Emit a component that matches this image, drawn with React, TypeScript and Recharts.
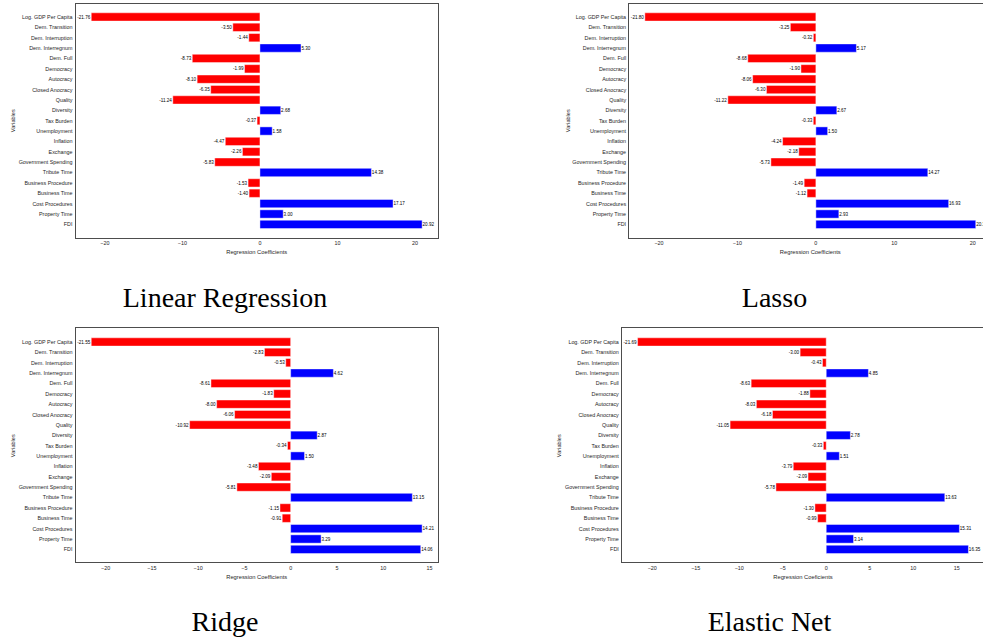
import React from "react";
import { BarChart, Bar, XAxis, YAxis, Cell, LabelList } from "recharts";

const categories = [
  "Log. GDP Per Capita",
  "Dem. Transition",
  "Dem. Interruption",
  "Dem. Interregnum",
  "Dem. Full",
  "Democracy",
  "Autocracy",
  "Closed Anocracy",
  "Quality",
  "Diversity",
  "Tax Burden",
  "Unemployment",
  "Inflation",
  "Exchange",
  "Government Spending",
  "Tribute Time",
  "Business Procedure",
  "Business Time",
  "Cost Procedures",
  "Property Time",
  "FDI",
];

const linearValues = [
  -21.76, -3.5, -1.44, 5.3, -8.73, -1.99, -8.1, -6.35, -11.24, 2.68, -0.37, 1.58,
  -4.47, -2.26, -5.83, 14.38, -1.53, -1.4, 17.17, 3.0, 20.92,
];
const lassoValues = [
  -21.8, -3.25, -0.32, 5.17, -8.68, -1.9, -8.06, -6.3, -11.22, 2.67, -0.33, 1.5,
  -4.24, -2.18, -5.73, 14.27, -1.49, -1.12, 16.93, 2.93, 20.38,
];
const ridgeValues = [
  -21.55, -2.83, -0.53, 4.62, -8.61, -1.83, -8.0, -6.06, -10.92, 2.87, -0.34, 1.5,
  -3.48, -2.09, -5.81, 13.15, -1.15, -0.91, 14.21, 3.29, 14.06,
];
const elasticValues = [
  -21.69, -3.0, -0.43, 4.85, -8.63, -1.88, -8.03, -6.18, -11.05, 2.78, -0.33, 1.51,
  -3.79, -2.09, -5.78, 13.63, -1.3, -0.99, 15.31, 3.14, 16.35,
];

const wideTicks = [-20, -10, 0, 10, 20];
const narrowTicks = [-20, -15, -10, -5, 0, 5, 10, 15];

const SANS = "'Liberation Sans', Arial, sans-serif";
const TEXT = "#262626";
const PLOT_W = 364;
const PLOT_H = 236;
const PLOT_TOP = 2.7;
const X_AXIS_H = 22;

type Panel = {
  title: string;
  xlabel: string;
  values: number[];
  ticks: number[];
  left: number;
  top: number;
  yAxisWidth: number;
  titleX: number;
  titleY: number;
};

const panels: Panel[] = [
  { title: "Linear Regression", xlabel: "Regression Coefficients", values: linearValues, ticks: wideTicks, left: 0, top: 0, yAxisWidth: 74.7, titleX: 225, titleY: 298 },
  { title: "Lasso", xlabel: "Regression Coefficients", values: lassoValues, ticks: wideTicks, left: 555, top: 0, yAxisWidth: 73.3, titleX: 774.5, titleY: 298 },
  { title: "Ridge", xlabel: "Regression Coefficients", values: ridgeValues, ticks: narrowTicks, left: 0, top: 324.8, yAxisWidth: 74.7, titleX: 225, titleY: 622 },
  { title: "Elastic Net", xlabel: "Regression Coeficients", values: elasticValues, ticks: narrowTicks, left: 545.5, top: 324.8, yAxisWidth: 75, titleX: 769.5, titleY: 622 },
];

function fmtTick(v: number) {
  return v < 0 ? "\u2212" + Math.abs(v) : String(v);
}

// plain svg text so long names stay on one line
function CategoryTick(props: any) {
  const { x, y, payload } = props;
  return (
    <text x={x} y={y} dy="0.36em" textAnchor="end" fontSize={5.4} fontFamily={SANS} fill={TEXT}>
      {payload.value}
    </text>
  );
}

function ValueLabel(props: any) {
  const { x, y, width, height, value } = props;
  const x0 = Number(x);
  const w = Number(width);
  const lo = Math.min(x0, x0 + w);
  const hi = Math.max(x0, x0 + w);
  const cy = Number(y) + Number(height) / 2;
  const neg = Number(value) < 0;
  return (
    <text
      x={neg ? lo - 1 : hi + 0.4}
      y={cy}
      dy="0.36em"
      textAnchor={neg ? "end" : "start"}
      fontSize={4.6}
      fontFamily={SANS}
      fill="#000"
    >
      {Number(value).toFixed(2)}
    </text>
  );
}

function CoefChart({ p }: { p: Panel }) {
  const data = categories.map((name, i) => ({ name, value: p.values[i] }));
  const lo = Math.min(...p.values);
  const hi = Math.max(...p.values);
  const pad = (hi - lo) * 0.05;
  const width = p.yAxisWidth + PLOT_W + 8;
  const height = PLOT_TOP + PLOT_H + X_AXIS_H;

  return (
    <div style={{ position: "absolute", left: p.left, top: p.top, width, height }}>
      <BarChart
        layout="vertical"
        width={width}
        height={height}
        data={data}
        margin={{ top: PLOT_TOP, right: 8, bottom: 0, left: 0 }}
        barSize={8.3}
      >
        <XAxis
          type="number"
          domain={[lo - pad, hi + pad]}
          ticks={p.ticks}
          interval={0}
          height={X_AXIS_H}
          axisLine={false}
          tickLine={false}
          tickSize={0}
          tickMargin={2.6}
          tickFormatter={fmtTick}
          tick={{ fontSize: 5.4, fill: TEXT, fontFamily: SANS }}
          label={{
            value: p.xlabel,
            position: "insideBottom",
            offset: 6.5,
            style: { fontSize: 5.8, fill: TEXT, fontFamily: SANS },
          }}
        />
        <YAxis
          type="category"
          dataKey="name"
          width={p.yAxisWidth}
          interval={0}
          padding={{ top: 9.1, bottom: 9.1 }}
          axisLine={false}
          tickLine={false}
          tickSize={0}
          tickMargin={2.2}
          tick={<CategoryTick />}
          label={{
            value: "Variables",
            angle: -90,
            position: "insideLeft",
            offset: 12.7,
            style: { fontSize: 5.6, fill: TEXT, fontFamily: SANS, textAnchor: "middle" },
          }}
        />
        <Bar dataKey="value" isAnimationActive={false} stroke="rgba(255,255,255,0.55)" strokeWidth={0.8}>
          {data.map((d) => (
            <Cell key={d.name} fill={d.value < 0 ? "#ff0000" : "#0000ff"} />
          ))}
          <LabelList dataKey="value" content={ValueLabel} />
        </Bar>
      </BarChart>
      <div
        style={{
          position: "absolute",
          left: p.yAxisWidth,
          top: PLOT_TOP,
          width: PLOT_W,
          height: PLOT_H,
          border: "1px solid #4d4d4d",
          boxSizing: "border-box",
          pointerEvents: "none",
        }}
      />
    </div>
  );
}

export default function App() {
  return (
    <div
      style={{
        position: "absolute",
        left: 0,
        top: 0,
        width: 983,
        height: 642,
        overflow: "hidden",
        background: "#fff",
      }}
    >
      {panels.map((p) => (
        <React.Fragment key={p.title}>
          <CoefChart p={p} />
          <div
            style={{
              position: "absolute",
              left: p.titleX - 150,
              top: p.titleY - 16,
              width: 300,
              height: 32,
              lineHeight: "32px",
              textAlign: "center",
              fontFamily: "'Liberation Serif', 'Times New Roman', serif",
              fontSize: 28,
              color: "#000",
            }}
          >
            {p.title}
          </div>
        </React.Fragment>
      ))}
    </div>
  );
}
